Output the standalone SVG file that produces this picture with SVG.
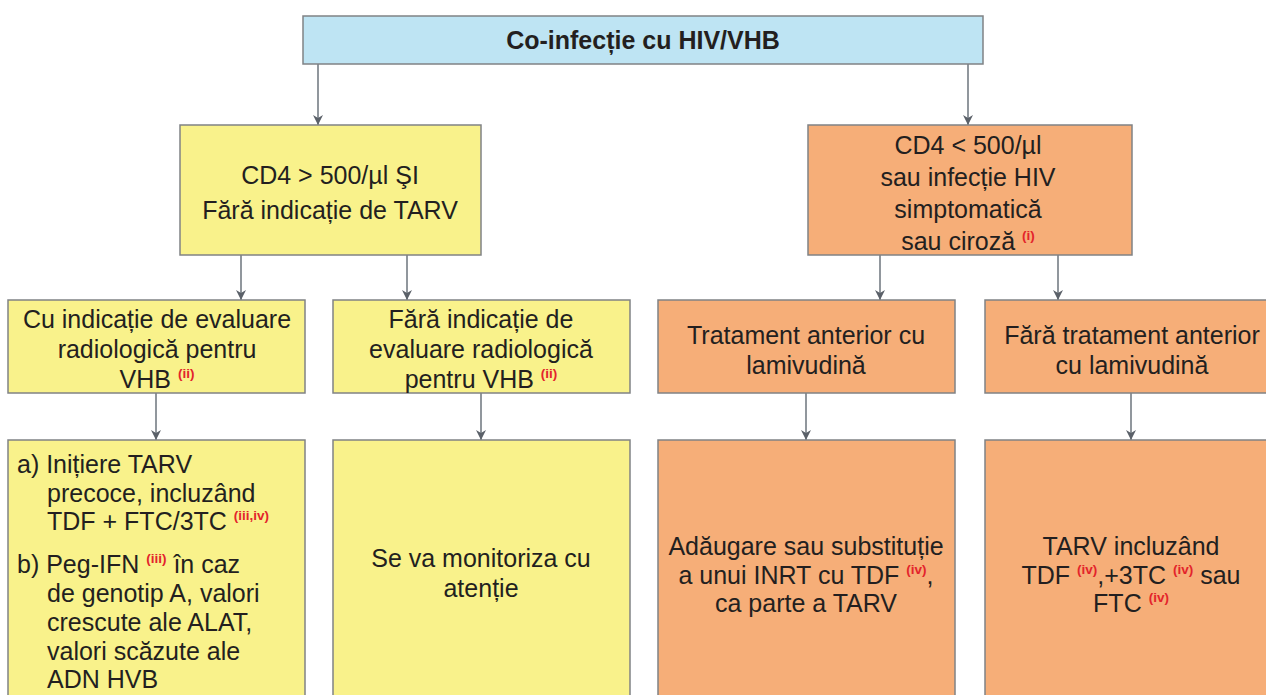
<svg xmlns="http://www.w3.org/2000/svg" width="1266" height="695" viewBox="0 0 1266 695">
  <style>
    .box { stroke: #808285; stroke-width: 1.5; }
    .blue { fill: #bee4f3; }
    .yellow { fill: #f9f28b; }
    .orange { fill: #f6ae78; }
    .t { font-family: "Liberation Sans", Arial, sans-serif; font-size: 25px; fill: #231f20; text-anchor: middle; }
    .tl { font-family: "Liberation Sans", Arial, sans-serif; font-size: 25px; fill: #231f20; }
    .title { font-family: "Liberation Sans", Arial, sans-serif; font-size: 25px; font-weight: bold; fill: #231f20; text-anchor: middle; }
    .sup { font-size: 13.5px; font-weight: bold; fill: #e3242b; }
    .conn line { stroke: #6d747c; stroke-width: 1.5; marker-end: url(#arrow); }
  </style>
  <defs>
    <marker id="arrow" viewBox="0 0 10 10" refX="10" refY="5" markerWidth="10" markerHeight="10" markerUnits="userSpaceOnUse" orient="auto">
      <path d="M0,0 L10,5 L0,10 L3,5 Z" fill="#5b6169"/>
    </marker>
  </defs>

  <rect width="1266" height="695" fill="#ffffff"/>

  <!-- connectors -->
  <g id="connectors" class="conn">
    <line x1="318" y1="64" x2="318" y2="125"/>
    <line x1="968" y1="64" x2="968" y2="125"/>
    <line x1="241" y1="255" x2="241" y2="300"/>
    <line x1="407" y1="255" x2="407" y2="300"/>
    <line x1="880" y1="255" x2="880" y2="300"/>
    <line x1="1058" y1="255" x2="1058" y2="300"/>
    <line x1="156" y1="393" x2="156" y2="440"/>
    <line x1="481" y1="393" x2="481" y2="440"/>
    <line x1="806" y1="393" x2="806" y2="440"/>
    <line x1="1131" y1="393" x2="1131" y2="440"/>
  </g>

  <!-- root -->
  <g id="root">
    <rect class="box blue" x="303" y="16" width="680" height="48"/>
    <text class="title" x="643" y="49">Co-infecție cu HIV/VHB</text>
  </g>

  <!-- level 1 -->
  <g id="cd4-high">
    <rect class="box yellow" x="180" y="125" width="301" height="130"/>
    <text class="t" x="330" y="184">CD4 &gt; 500/µl ŞI</text>
    <text class="t" x="330" y="219">Fără indicație de TARV</text>
  </g>

  <g id="cd4-low">
    <rect class="box orange" x="808" y="125" width="324" height="130"/>
    <text class="t" x="968" y="154">CD4 &lt; 500/µl</text>
    <text class="t" x="968" y="186">sau infecție HIV</text>
    <text class="t" x="968" y="218">simptomatică</text>
    <text class="t" x="968" y="250">sau ciroză <tspan class="sup" dy="-10">(i)</tspan></text>
  </g>

  <!-- level 2 -->
  <g id="with-eval">
    <rect class="box yellow" x="8" y="300" width="297" height="93"/>
    <text class="t" x="157" y="328">Cu indicație de evaluare</text>
    <text class="t" x="157" y="358">radiologică pentru</text>
    <text class="t" x="157" y="388">VHB <tspan class="sup" dy="-10">(ii)</tspan></text>
  </g>

  <g id="without-eval">
    <rect class="box yellow" x="333" y="300" width="297" height="93"/>
    <text class="t" x="481" y="328">Fără indicație de</text>
    <text class="t" x="481" y="358">evaluare radiologică</text>
    <text class="t" x="481" y="388">pentru VHB <tspan class="sup" dy="-10">(ii)</tspan></text>
  </g>

  <g id="prior-lam">
    <rect class="box orange" x="658" y="300" width="297" height="93"/>
    <text class="t" x="806" y="344">Tratament anterior cu</text>
    <text class="t" x="806" y="374">lamivudină</text>
  </g>

  <g id="no-prior-lam">
    <rect class="box orange" x="985" y="300" width="300" height="93"/>
    <text class="t" x="1132" y="344">Fără tratament anterior</text>
    <text class="t" x="1132" y="374">cu lamivudină</text>
  </g>

  <!-- level 3 -->
  <g id="early-tarv">
    <rect class="box yellow" x="8" y="440" width="297" height="270"/>
    <text class="tl" x="17" y="473">a) Inițiere TARV</text>
    <text class="tl" x="47" y="502">precoce, incluzând</text>
    <text class="tl" x="47" y="530">TDF + FTC/3TC <tspan class="sup" dy="-10">(iii,iv)</tspan></text>
    <text class="tl" x="17" y="573">b) Peg-IFN <tspan class="sup" dy="-10">(iii)</tspan><tspan dy="10"> în caz</tspan></text>
    <text class="tl" x="47" y="602">de genotip A, valori</text>
    <text class="tl" x="47" y="631">crescute ale ALAT,</text>
    <text class="tl" x="47" y="660">valori scăzute ale</text>
    <text class="tl" x="47" y="688">ADN HVB</text>
  </g>

  <g id="monitor">
    <rect class="box yellow" x="333" y="440" width="297" height="270"/>
    <text class="t" x="481" y="567">Se va monitoriza cu</text>
    <text class="t" x="481" y="597">atenție</text>
  </g>

  <g id="add-tdf">
    <rect class="box orange" x="658" y="440" width="297" height="270"/>
    <text class="t" x="806" y="555">Adăugare sau substituție</text>
    <text class="t" x="806" y="584">a unui INRT cu TDF <tspan class="sup" dy="-10">(iv)</tspan><tspan dy="10">,</tspan></text>
    <text class="t" x="806" y="612">ca parte a TARV</text>
  </g>

  <g id="tarv-tdf">
    <rect class="box orange" x="985" y="440" width="300" height="270"/>
    <text class="t" x="1131" y="555">TARV incluzând</text>
    <text class="t" x="1131" y="584">TDF <tspan class="sup" dy="-10">(iv)</tspan><tspan dy="10">,+3TC </tspan><tspan class="sup" dy="-10">(iv)</tspan><tspan dy="10"> sau</tspan></text>
    <text class="t" x="1131" y="612">FTC  <tspan class="sup" dy="-10">(iv)</tspan></text>
  </g>
</svg>
